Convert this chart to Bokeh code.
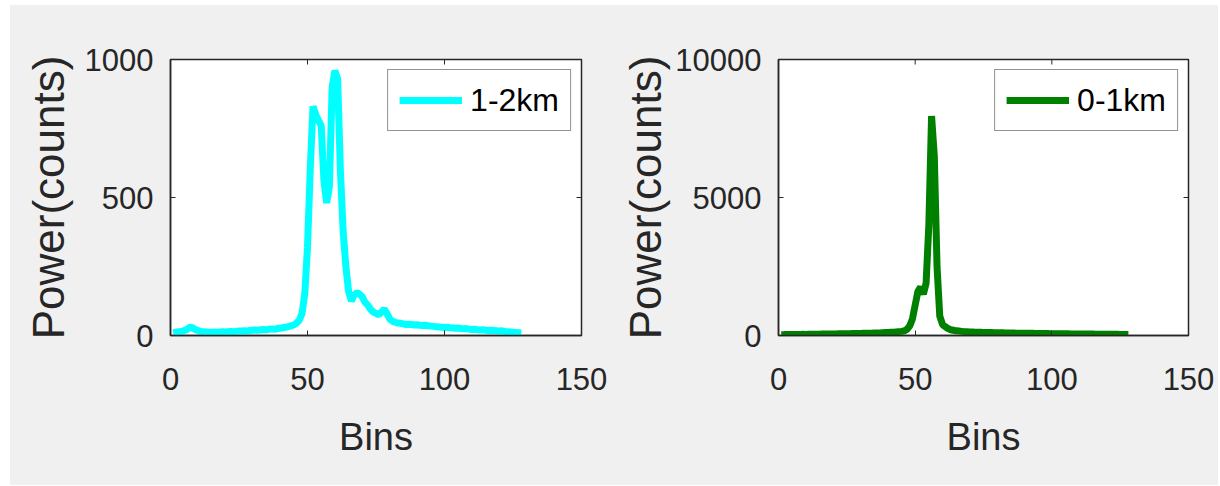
from bokeh.plotting import figure
from bokeh.models import Range1d, FixedTicker, Legend, LegendItem
from bokeh.layouts import row
from bokeh.embed import file_html
from bokeh.resources import INLINE
import math

bins = list(range(1, 129))

power_1_2km = [
    10, 12, 14, 15, 18, 22, 30, 28, 22, 18,
    15, 14, 13, 12, 12, 13, 12, 13, 14, 13,
    14, 15, 14, 15, 16, 16, 17, 16, 18, 19,
    20, 19, 21, 22, 20, 23, 24, 22, 25, 26,
    28, 30, 32, 35, 38, 45, 55, 80, 150, 320,
    600, 830, 800, 780, 760, 560, 480, 540, 900, 960,
    930, 600, 380, 250, 160, 125, 145, 155, 150, 140,
    120, 110, 95, 85, 80, 75, 85, 95, 80, 60,
    52, 48, 45, 44, 42, 40, 41, 40, 38, 39,
    37, 36, 37, 35, 34, 33, 32, 31, 30, 29,
    30, 28, 27, 26, 27, 25, 24, 25, 23, 22,
    23, 21, 20, 21, 19, 18, 19, 18, 17, 16,
    17, 15, 14, 13, 12, 11, 10, 9,
]

power_0_1km = [
    30, 32, 35, 33, 36, 38, 35, 40, 42, 40,
    43, 45, 44, 47, 48, 50, 52, 51, 54, 55,
    58, 60, 62, 65, 63, 66, 68, 70, 72, 75,
    78, 80, 82, 85, 88, 90, 95, 100, 105, 110,
    115, 120, 130, 140, 150, 170, 220, 350, 600, 1100,
    1600, 1750, 1500, 1900, 4000, 7950, 6500, 2500, 700, 400,
    320, 250, 210, 190, 170, 160, 150, 140, 135, 130,
    125, 120, 118, 115, 112, 110, 108, 105, 102, 100,
    98, 96, 94, 92, 90, 88, 86, 85, 84, 82,
    80, 78, 77, 76, 74, 72, 71, 70, 68, 67,
    66, 64, 63, 62, 60, 59, 58, 57, 56, 55,
    54, 53, 52, 51, 50, 49, 48, 47, 46, 45,
    44, 43, 42, 41, 40, 40, 39, 38,
]

x_ticks = [0, 50, 100, 150]
y_ticks_left = [0, 500, 1000]
y_ticks_right = [0, 5000, 10000]

AX = "#262626"
BG = "#f0f0f0"
FONT = "Liberation Sans"


def make(y, color, label, ymax, yticks, W, mbl, mbr, ylab_standoff):
    p = figure(width=W, height=480, x_range=Range1d(0, 150), y_range=Range1d(0, ymax),
               output_backend="svg", toolbar_location=None,
               min_border_left=mbl, min_border_right=mbr,
               min_border_top=54, min_border_bottom=150,
               background_fill_color="white", border_fill_color=BG,
               outline_line_color=AX, outline_line_width=1.5)
    p.xgrid.visible = False
    p.ygrid.visible = False
    r = p.line(bins, y, line_color=color, line_width=7)

    # inward ticks on the top and right edges of the box
    p.scatter(x_ticks, [ymax] * len(x_ticks), marker="dash", angle=math.pi / 2,
              size=10, line_color=AX, line_width=1)
    p.scatter([150] * len(yticks), yticks, marker="dash", size=10,
              line_color=AX, line_width=1)

    for ax in (p.xaxis[0], p.yaxis[0]):
        ax.major_tick_in = 5
        ax.major_tick_out = 0
        ax.minor_tick_line_color = None
        ax.axis_line_color = AX
        ax.axis_line_width = 1.5
        ax.major_tick_line_color = AX
        ax.major_label_text_font = FONT
        ax.major_label_text_font_size = "31px"
        ax.major_label_text_color = AX
        ax.axis_label_text_font = FONT
        ax.axis_label_text_font_style = "normal"
        ax.axis_label_text_color = AX
    p.xaxis.ticker = FixedTicker(ticks=x_ticks)
    p.yaxis.ticker = FixedTicker(ticks=yticks)
    p.xaxis.axis_label = "Bins"
    p.yaxis.axis_label = "Power(counts)"
    p.xaxis.axis_label_text_font_size = "38px"
    p.yaxis.axis_label_text_font_size = "44px"
    p.xaxis.major_label_standoff = 32
    p.yaxis.major_label_standoff = 17
    p.xaxis.axis_label_standoff = 23
    p.yaxis.axis_label_standoff = ylab_standoff

    leg = Legend(items=[LegendItem(label=label, renderers=[r])], location="top_right",
                 margin=10, padding=11, spacing=0, label_standoff=8,
                 glyph_width=63, glyph_height=38, label_height=38,
                 label_text_font=FONT, label_text_font_size="32px",
                 label_text_color="black", border_line_color=AX,
                 border_line_width=1.5, background_fill_color="white",
                 background_fill_alpha=1.0)
    p.add_layout(leg)
    return p


p1 = make(power_1_2km, "#00FFFF", "1-2km", 1000, y_ticks_left, 608, 160, 37, 9)
p2 = make(power_0_1km, "#008000", "0-1km", 10000, y_ticks_right, 600, 159, 30, 2)

layout = row(p1, p2, margin=(5, 0, 0, 10), styles={"background-color": BG})
open("out.html", "w").write(file_html(layout, INLINE))
